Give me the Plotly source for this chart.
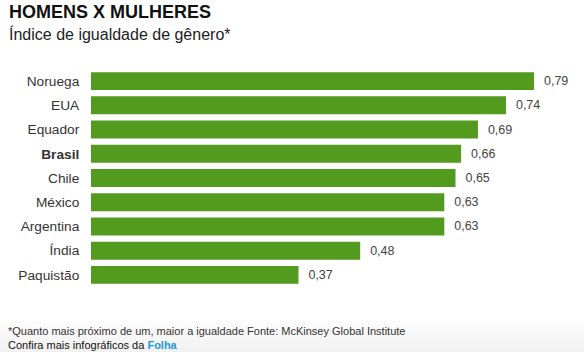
import plotly.graph_objects as go

countries = ["Noruega", "EUA", "Equador", "Brasil", "Chile", "México", "Argentina", "Índia", "Paquistão"]
values = [0.79, 0.74, 0.69, 0.66, 0.65, 0.63, 0.63, 0.48, 0.37]
value_labels = ["0,79", "0,74", "0,69", "0,66", "0,65", "0,63", "0,63", "0,48", "0,37"]
tick_labels = ["<b>Brasil</b>" if c == "Brasil" else c for c in countries]

W, H = 584, 352
ml, mr, mt, mb = 91, 0, 69, 65
plot_w = W - ml - mr
px_per_unit = 560.8
xmax = plot_w / px_per_unit

fig = go.Figure()
fig.add_trace(go.Bar(
    y=countries, x=values, orientation="h",
    marker=dict(color="#539b1e", line=dict(width=0)),
    text=["\u00a0\u00a0" + v for v in value_labels], textposition="outside",
    textfont=dict(family="Liberation Sans, Arial, sans-serif", size=12.5, color="#444444"),
    cliponaxis=False, width=0.74, hoverinfo="skip",
))

shapes = []
# subtle footer gradient
n = 18
y0, y1 = 316, 352
for i in range(n):
    t = (i + 0.5) / n
    g = int(round(255 - 14 * t))
    shapes.append(dict(type="rect", xref="paper", yref="paper",
                       x0=-ml / plot_w, x1=1 + mr / plot_w,
                       y0=(H - mb - (y0 + (y1 - y0) * (i + 1) / n)) / (H - mt - mb),
                       y1=(H - mb - (y0 + (y1 - y0) * i / n)) / (H - mt - mb),
                       fillcolor=f"rgb({g},{g},{g})", line=dict(width=0), layer="below"))

font = "Liberation Sans, Arial, Helvetica, sans-serif"
ph = H - mt - mb

def ypaper(py):
    return (H - mb - py) / ph

def xpaper(px):
    return (px - ml) / plot_w

annotations = [
    dict(text="<b>HOMENS X MULHERES</b>", x=xpaper(7), y=ypaper(12), xref="paper", yref="paper",
         xanchor="left", yanchor="middle", showarrow=False, font=dict(family=font, size=18, color="#111111")),
    dict(text="Índice de igualdade de gênero*", x=xpaper(7), y=ypaper(34), xref="paper", yref="paper",
         xanchor="left", yanchor="middle", showarrow=False, font=dict(family=font, size=16, color="#222222")),
    dict(text="*Quanto mais próximo de um, maior a igualdade Fonte: McKinsey Global Institute",
         x=xpaper(6), y=ypaper(331), xref="paper", yref="paper",
         xanchor="left", yanchor="middle", showarrow=False, font=dict(family=font, size=11, color="#333333")),
    dict(text="Confira mais infográficos da <b><span style='color:#1a9be0'>Folha</span></b>",
         x=xpaper(6), y=ypaper(345), xref="paper", yref="paper",
         xanchor="left", yanchor="middle", showarrow=False, font=dict(family=font, size=11, color="#111111")),
]

fig.update_layout(
    width=W, height=H,
    margin=dict(l=ml, r=mr, t=mt, b=mb, pad=0),
    paper_bgcolor="white", plot_bgcolor="rgba(0,0,0,0)",
    showlegend=False, bargap=0.26,
    xaxis=dict(range=[0, xmax], visible=False, fixedrange=True),
    yaxis=dict(autorange="reversed", categoryorder="array", categoryarray=countries,
               tickmode="array", tickvals=countries, ticktext=tick_labels,
               showgrid=False, showline=False, zeroline=False, ticks="outside",
               ticklen=8, tickcolor="rgba(0,0,0,0)",
               tickfont=dict(family=font, size=13.7, color="#333333"), fixedrange=True),
    shapes=shapes, annotations=annotations,
    uniformtext=dict(mode=False),
)

fig.write_html("out.html", config={"displayModeBar": False})
